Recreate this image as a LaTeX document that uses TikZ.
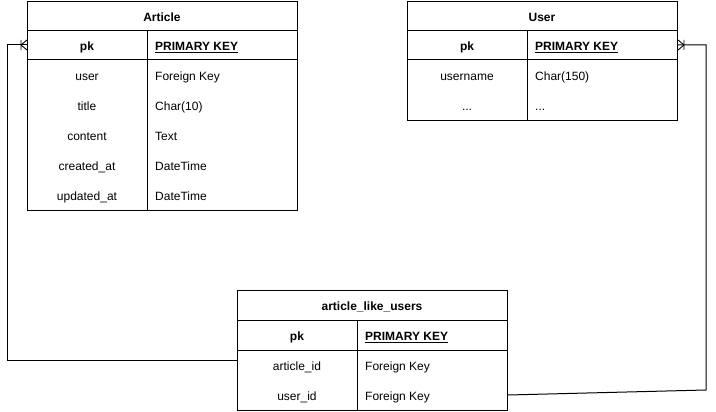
\documentclass[tikz,border=0pt]{standalone}
\usepackage{fontspec}
\setmainfont{Liberation Sans}
\usetikzlibrary{positioning,calc}

\newcommand{\tdots}{...}
\tikzset{
	tbl/.style={draw,line width=1pt,minimum width=270pt,inner sep=0pt,anchor=north west},
	fld/.style={font=\fontsize{12}{14}\selectfont,inner sep=0pt,text height=11pt,text depth=0pt},
	hd/.style={fld,font=\fontsize{12}{14}\selectfont\bfseries},
	conn/.style={line width=1pt},
	crowfoot/.pic={\draw[line width=0.9pt] (0,-5) -- (0,5) (0,0) -- (6,-5) (0,0) -- (6,5);}
}

\begin{document}
\begin{tikzpicture}[x=1pt,y=-1pt]
\useasboundingbox (0,0) rectangle (716,412);

% Article
\node[tbl,minimum height=209pt] (article) at (27,1) {};
\draw[conn] (27,31) -- (297,31) (27,60) -- (297,60) (147,31) -- (147,210);
\node[hd] (art-title) at (162,16) {Article};
\node[hd] (art-pk) at (87,45) {pk};
\node[hd,anchor=west] (art-pkt) at (155,45) {\underline{PRIMARY KEY}};
\foreach \nm/\ty [count=\i] in {user/Foreign Key,title/Char(10),content/Text,created\_at/DateTime,updated\_at/DateTime}{
	\node[fld] (art-f\i) at (87,45+30*\i) {\nm};
	\node[fld,anchor=west] (art-t\i) at (155,45+30*\i) {\ty};
}

% User
\node[tbl,minimum height=119pt] (user) at (407,1) {};
\draw[conn] (407,31) -- (677,31) (407,60) -- (677,60) (527,31) -- (527,120);
\node[hd] (usr-title) at (542,16) {User};
\node[hd] (usr-pk) at (467,45) {pk};
\node[hd,anchor=west] (usr-pkt) at (535,45) {\underline{PRIMARY KEY}};
\foreach \nm/\ty [count=\i] in {username/Char(150),\tdots/\tdots}{
	\node[fld] (usr-f\i) at (467,45+30*\i) {\nm};
	\node[fld,anchor=west] (usr-t\i) at (535,45+30*\i) {\ty};
}

% article_like_users
\node[tbl,minimum height=120pt] (alu) at (237,290) {};
\draw[conn] (237,320) -- (507,320) (237,350) -- (507,350) (357,320) -- (357,410);
\node[hd] (alu-title) at (372,305) {article\_like\_users};
\node[hd] (alu-pk) at (297,335) {pk};
\node[hd,anchor=west] (alu-pkt) at (365,335) {\underline{PRIMARY KEY}};
\foreach \nm/\ty [count=\i] in {article\_id/Foreign Key,user\_id/Foreign Key}{
	\node[fld] (alu-f\i) at (297,335+30*\i) {\nm};
	\node[fld,anchor=west] (alu-t\i) at (365,335+30*\i) {\ty};
}

% relations
\coordinate (art-in) at ([yshift=-44pt]article.north west);
\coordinate (usr-in) at ([yshift=-44pt]user.north east);
\coordinate (alu-aid) at ([yshift=-70pt]alu.north west);
\coordinate (alu-uid) at ([yshift=-105pt]alu.north east);
\draw[conn] (alu-aid) -| (7,45) -- (art-in);
\draw[conn] (alu-uid) -- (706,390) |- (usr-in);
\pic at ([xshift=-6pt]art-in) {crowfoot};
\pic[xscale=-1] at ([xshift=6pt]usr-in) {crowfoot};

\end{tikzpicture}
\end{document}
